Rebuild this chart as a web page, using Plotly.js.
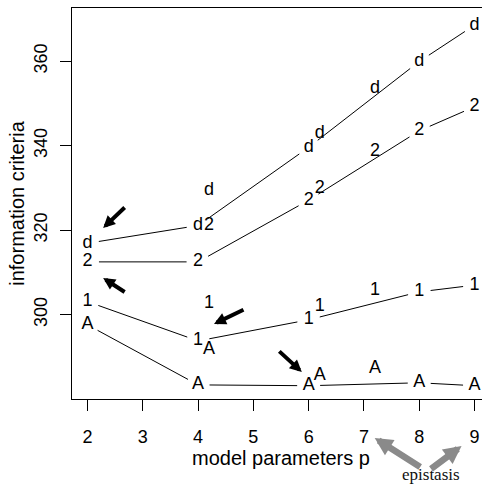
<!DOCTYPE html>
<html><head><meta charset="utf-8">
<script src="https://cdn.plot.ly/plotly-3.0.1.min.js"></script>
<style>
html,body{margin:0;padding:0;overflow:hidden;background:#fff;width:482px;height:486px}
#chart{width:500px;height:486px}
</style>
</head><body><div id="chart"></div>
<script>
// model parameters (x) for the joined models and for the single extra models
const params = [2, 4, 6, 8, 9];
const altParams = [4.2, 6.2, 7.2];
// symbols used for each criterion
const symbols = ['A', '1', '2', 'd'];
// values of each criterion for the joined models
const valsA = [297.6, 283.4, 283.2, 283.9, 283.2];
const vals1 = [303.1, 293.8, 298.8, 305.4, 307.0];
const vals2 = [312.5, 312.5, 327.1, 343.5, 349.2];
const valsD = [316.9, 321.1, 339.6, 359.9, 368.5];
// values for the extra single models
const altA = [291.7, 285.7, 287.3];
const alt1 = [302.7, 302.0, 305.8];
const alt2 = [321.1, 329.9, 338.6];
const altD = [329.3, 342.9, 353.4];
// axis ticks
const xTicks = [2, 3, 4, 5, 6, 7, 8, 9];
const yTicks = [300, 320, 340, 360];
const xTitle = 'model parameters p';
const yTitle = 'information criteria';
const noteText = 'epistasis';

const FW = 500, FH = 486, L = 71.8, T = 8, PW = 418.7, PH = 391;
const xr = [1.72, 9.28], yr = [280.06, 372.56];
const FONT = 'Liberation Sans, Arial, Helvetica, sans-serif';
const FS = 18, TFS = 20;
const GAP = 11.5;

function toPx(x, y) { return [(x - xr[0]) / (xr[1] - xr[0]) * PW, (y - yr[0]) / (yr[1] - yr[0]) * PH]; }
function fromPx(px, py) { return [xr[0] + px / PW * (xr[1] - xr[0]), yr[0] + py / PH * (yr[1] - yr[0])]; }
function gapped(xs, ys) {
  const ox = [], oy = [];
  for (let i = 0; i < xs.length - 1; i++) {
    const p = toPx(xs[i], ys[i]), q = toPx(xs[i + 1], ys[i + 1]);
    const dx = q[0] - p[0], dy = q[1] - p[1], d = Math.hypot(dx, dy);
    if (d <= 2 * GAP) continue;
    const a = fromPx(p[0] + dx * GAP / d, p[1] + dy * GAP / d);
    const b = fromPx(q[0] - dx * GAP / d, q[1] - dy * GAP / d);
    ox.push(a[0], b[0], null); oy.push(a[1], b[1], null);
  }
  return [ox, oy];
}

const mainVals = [valsA, vals1, vals2, valsD];
const altVals = [altA, alt1, alt2, altD];
const traces = [];
mainVals.forEach(v => {
  const g = gapped(params, v);
  traces.push({x: g[0], y: g[1], mode: 'lines', line: {color: '#000', width: 1}, hoverinfo: 'skip', connectgaps: false});
});
mainVals.forEach((v, i) => {
  traces.push({x: params, y: v, mode: 'text', text: params.map(() => symbols[i]), textposition: 'middle center',
    textfont: {family: FONT, size: FS, color: '#000'}, cliponaxis: false, hoverinfo: 'skip'});
});
altVals.forEach((v, i) => {
  traces.push({x: altParams, y: v, mode: 'text', text: altParams.map(() => symbols[i]), textposition: 'middle center',
    textfont: {family: FONT, size: FS, color: '#000'}, cliponaxis: false, hoverinfo: 'skip'});
});

function px2paper(px, py) { return [(px - L) / PW, (T + PH - py) / PH]; }
function arrow(hx, hy, tx, ty, color, w, size) {
  const p = px2paper(hx, hy);
  return {xref: 'paper', yref: 'paper', x: p[0], y: p[1], ax: tx - hx, ay: ty - hy, text: '', showarrow: true,
    arrowhead: 2, arrowwidth: w, arrowsize: size, arrowcolor: color, standoff: 0};
}
const np = px2paper(431, 474);
const annotations = [
  arrow(103, 228, 126, 206, '#000', 4, 0.6),
  arrow(103, 278, 126, 293, '#000', 4, 0.6),
  arrow(214, 324, 245, 309, '#000', 4, 0.6),
  arrow(302, 372, 278, 350, '#000', 4, 0.6),
  arrow(375, 438, 422, 468, '#8a8a8a', 6.5, 0.55),
  arrow(462, 446, 430, 470, '#8a8a8a', 6.5, 0.55),
  {xref: 'paper', yref: 'paper', x: np[0], y: np[1], xanchor: 'center', yanchor: 'middle', text: noteText, showarrow: false,
   borderpad: 0, font: {family: 'Liberation Serif, Times New Roman, serif', size: 17, color: '#111'}}
];

const axisCommon = {showgrid: false, zeroline: false, showline: true, mirror: true, linecolor: '#000', linewidth: 1,
  ticks: 'outside', ticklen: 11, tickwidth: 1, tickcolor: '#000', tickfont: {family: FONT, size: FS, color: '#000'}};
const layout = {
  width: FW, height: FH,
  margin: {l: L, r: FW - L - PW, t: T, b: FH - T - PH, pad: 0},
  paper_bgcolor: '#fff', plot_bgcolor: '#fff', showlegend: false,
  font: {family: FONT, size: FS, color: '#000'},
  xaxis: Object.assign({}, axisCommon, {range: xr, tickvals: xTicks, ticktext: xTicks.map(String), ticklabelstandoff: 10,
    title: {text: xTitle, font: {family: FONT, size: TFS, color: '#000'}, standoff: 0}}),
  yaxis: Object.assign({}, axisCommon, {range: yr, tickvals: yTicks, ticktext: yTicks.map(String), tickangle: -90, ticklabelstandoff: 6,
    title: {text: yTitle, font: {family: FONT, size: TFS, color: '#000'}, standoff: 0}}),
  annotations: annotations
};
Plotly.newPlot('chart', traces, layout, {staticPlot: true, displayModeBar: false});
</script>
</body></html>
